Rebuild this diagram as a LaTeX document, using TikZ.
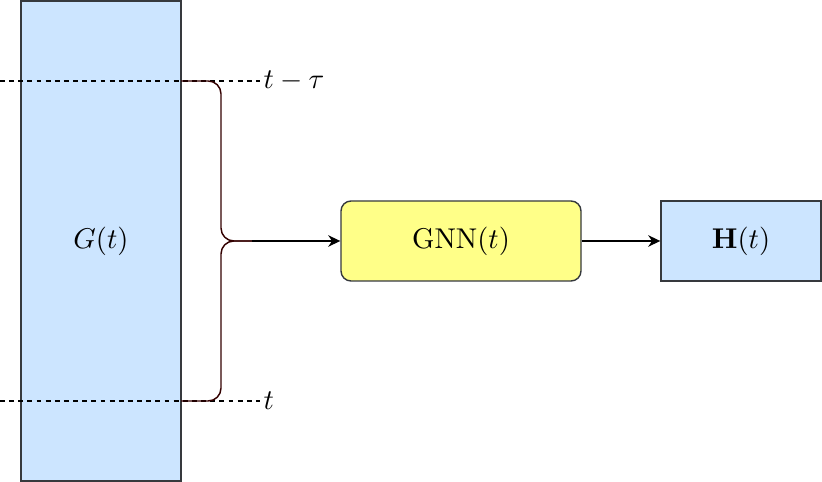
\documentclass[tikz,border=0pt]{standalone}
\usetikzlibrary{arrows.meta}
\definecolor{snapblue}{HTML}{CCE5FF}
\definecolor{gnnyellow}{HTML}{FFFF88}
\definecolor{boxline}{HTML}{36393D}
\definecolor{bracered}{HTML}{330000}
\begin{document}
\begin{tikzpicture}[x=0.35pt, y=-0.35pt, every node/.style={font=\normalsize},
  box/.style={draw=boxline, line width=0.5pt, inner sep=0pt},
  window/.style={dashed, dash pattern=on 1.7pt off 1.5pt, line width=0.45pt},
  arrow/.style={-{Stealth[length=4.2pt, width=4pt, inset=1.3pt]}, line width=0.5pt}]
  \useasboundingbox (0,0) rectangle (822,482);
  % graph snapshots
  \node[box, fill=snapblue, minimum width=56pt, minimum height=168pt] (graph) at (101,241) {$G(t)$};
  % time window
  \coordinate (wintop) at (0,81);
  \coordinate (winbot) at (0,401);
  \draw[window] (wintop) -- (260,81) node[anchor=west, inner sep=1pt] (lagtop) {$t-\tau$};
  \draw[window] (winbot) -- (260,401) node[anchor=west, inner sep=1pt] (lagbot) {$t$};
  % brace over the window
  \coordinate (bracetop) at (181,81);
  \coordinate (bracebot) at (181,401);
  \coordinate (bracetip) at (252,241);
  \draw[bracered, line width=0.5pt, rounded corners=4.5pt] (bracetop) -- (221,81) -- (221,241) -- (bracetip);
  \draw[bracered, line width=0.5pt, rounded corners=4.5pt] (bracebot) -- (221,401) -- (221,241) -- (bracetip);
  % model and output
  \node[box, fill=gnnyellow, rounded corners=3.5pt, minimum width=84pt, minimum height=28pt] (gnn) at (461,241) {GNN$(t)$};
  \node[box, fill=snapblue, minimum width=56pt, minimum height=28pt] (embed) at (741,241) {$\mathbf{H}(t)$};
  \draw[arrow] (bracetip) -- (gnn.west);
  \draw[arrow] (gnn.east) -- (embed.west);
\end{tikzpicture}
\end{document}
